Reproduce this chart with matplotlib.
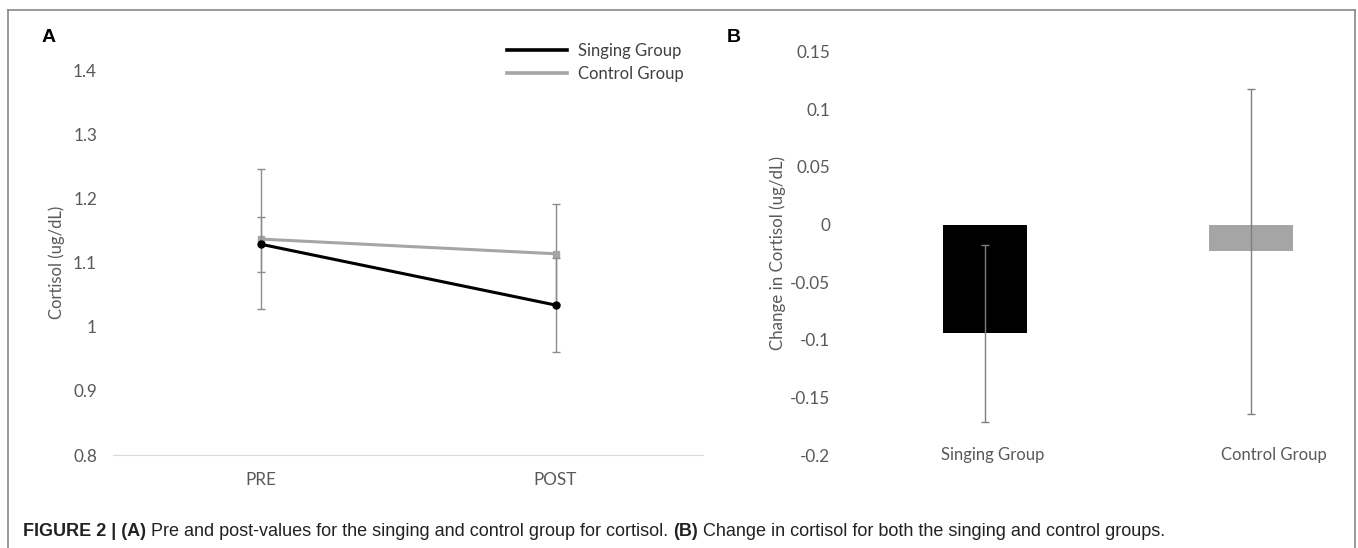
import matplotlib
matplotlib.use('Agg')
import matplotlib.pyplot as plt
from matplotlib.lines import Line2D

# panel A: pre / post cortisol means with error bars
timepoints = ['PRE', 'POST']
singing_mean = [1.129, 1.034]
singing_err = [0.043, 0.073]
control_mean = [1.137, 1.114]
control_err = [0.109, 0.078]

# panel B: change in cortisol
groups = ['Singing Group', 'Control Group']
change_mean = [-0.0945, -0.023]
change_err = [0.0765, 0.141]

W, H = 1358, 548
fig = plt.figure(figsize=(W / 100, H / 100), dpi=100)
txt = '#595959'
chart_font = 'Lato'

def px(x0, y_top, x1, y_bot):
    return [x0 / W, 1 - y_bot / H, (x1 - x0) / W, (y_bot - y_top) / H]

# ---- panel A
axA = fig.add_axes(px(113, 70.5, 703, 455))
xs = list(range(len(timepoints)))
axA.errorbar(xs, control_mean, yerr=control_err, color='#a5a5a5', lw=2.2,
             marker='s', ms=5, ecolor='#8c8c8c', elinewidth=1, capsize=3,
             capthick=1, label='Control Group', zorder=3)
axA.errorbar(xs, singing_mean, yerr=singing_err, color='black', lw=2.2,
             marker='o', ms=5, ecolor='#8c8c8c', elinewidth=1, capsize=3,
             capthick=1, label='Singing Group', zorder=4)
axA.set_xlim(-0.5, 1.5)
axA.set_ylim(0.8, 1.4)
axA.set_yticks([0.8, 0.9, 1.0, 1.1, 1.2, 1.3, 1.4])
axA.set_yticklabels(['0.8', '0.9', '1', '1.1', '1.2', '1.3', '1.4'])
axA.set_xticks(xs)
axA.set_xticklabels(timepoints)
for s in ['top', 'right', 'left']:
    axA.spines[s].set_visible(False)
axA.spines['bottom'].set_color('#d9d9d9')
axA.tick_params(axis='both', length=0, labelsize=12.3, labelcolor=txt)
axA.tick_params(axis='y', pad=11.5)
axA.tick_params(axis='x', pad=12)
axA.set_ylabel('Cortisol (ug/dL)', fontsize=12, color=txt, labelpad=6)
handles = [Line2D([], [], color='black', lw=2.6), Line2D([], [], color='#a5a5a5', lw=2.6)]
fig.legend(handles, ['Singing Group', 'Control Group'], loc='upper left',
           bbox_to_anchor=(507 / W, 1 - 43 / H), frameon=False, fontsize=12,
           handlelength=3.6, handletextpad=0.66, labelspacing=0.4,
           borderpad=0, borderaxespad=0, labelcolor='#404040')

# ---- panel B
axB = fig.add_axes(px(846, 51.7, 1350, 455))
bx = list(range(len(groups)))
axB.bar(bx, change_mean, width=0.316, color=['black', '#a5a5a5'], zorder=2)
axB.errorbar(bx, change_mean, yerr=change_err, fmt='none', ecolor='#7f7f7f',
             elinewidth=1, capsize=3, capthick=1, zorder=3)
axB.set_xlim(-0.524, 1.372)
axB.set_ylim(-0.2, 0.15)
axB.set_yticks([-0.2, -0.15, -0.1, -0.05, 0, 0.05, 0.1, 0.15])
axB.set_yticklabels(['-0.2', '-0.15', '-0.1', '-0.05', '0', '0.05', '0.1', '0.15'])
axB.set_xticks([])
for s in axB.spines.values():
    s.set_visible(False)
axB.tick_params(axis='y', length=0, labelsize=12.3, labelcolor=txt, pad=11.5)
axB.set_ylabel('Change in Cortisol (ug/dL)', fontsize=12.2, color=txt, labelpad=3)
label_shift = [0.026, 0.084]
for i, g in enumerate(groups):
    axB.text(bx[i] + label_shift[i], -0.2, g, ha='center', va='center',
             fontsize=12, color=txt, family=chart_font)

for ax in (axA, axB):
    for t in ax.get_xticklabels() + ax.get_yticklabels():
        t.set_family(chart_font)
    ax.yaxis.label.set_family(chart_font)
for t in fig.legends[0].get_texts():
    t.set_family(chart_font)

# panel letters
fig.text(42 / W, 1 - 37 / H, 'A', fontsize=14, fontweight='bold', va='center',
         family='Liberation Sans')
fig.text(727 / W, 1 - 37 / H, 'B', fontsize=14, fontweight='bold', va='center',
         family='Liberation Sans')

# frame round the figure
fc = '#7f7f7f'
fig.add_artist(Line2D([7.5 / W, 7.5 / W], [0, 1 - 9.5 / H], color=fc, lw=1.1))
fig.add_artist(Line2D([1355 / W, 1355 / W], [0, 1 - 9.5 / H], color=fc, lw=1.1))
fig.add_artist(Line2D([7.5 / W, 1355 / W], [1 - 9.5 / H, 1 - 9.5 / H], color=fc, lw=1.1))

# caption, bold and regular pieces chained
pieces = [('FIGURE 2 | (A)', 'bold'),
          (' Pre and post-values for the singing and control group for cortisol. ', 'normal'),
          ('(B)', 'bold'),
          (' Change in cortisol for both the singing and control groups.', 'normal')]
fig.canvas.draw()
r = fig.canvas.get_renderer()
x = 22.7
for s, wgt in pieces:
    t = fig.text(x / W, 1 - 531.7 / H, s, fontsize=13, fontweight=wgt,
                 va='center', family='Liberation Sans', color='#222222')
    bb = t.get_window_extent(renderer=r)
    x += bb.width

fig.savefig('out.png', dpi=100)
